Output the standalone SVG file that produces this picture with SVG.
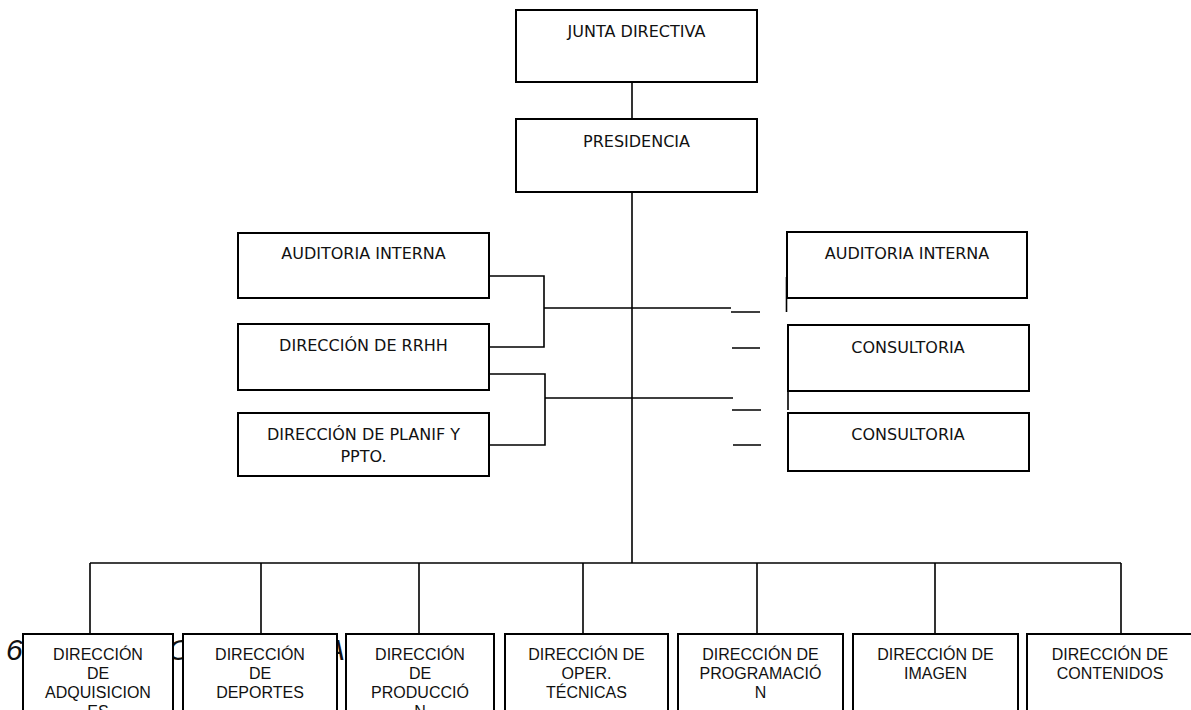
<svg xmlns="http://www.w3.org/2000/svg" width="1191" height="710" viewBox="0 0 1191 710">
<style>
.box{fill:#fff;stroke:#000;stroke-width:2}
.ln{fill:none;stroke:#000;stroke-width:1.6}
.t{font-family:"DejaVu Sans",Verdana,sans-serif;font-size:16px;fill:#111;text-anchor:middle}
.b{font-family:"Liberation Sans",Arial,sans-serif;font-size:16px;fill:#111;text-anchor:middle}
.bg{font-family:"Liberation Sans",Arial,sans-serif;font-size:30px;font-style:italic;fill:#111}
</style>
<rect width="1191" height="710" fill="#fff"/>
<g id="background-text">
<text class="bg" x="6" y="660">6</text>
<text class="bg" x="168" y="660">O</text>
<text class="bg" x="325" y="660">A</text>
</g>
<g id="connectors">
<path class="ln" d="M632 82V119"/>
<path class="ln" d="M632 192V563"/>
<path class="ln" d="M90 563H1121"/>
<path class="ln" d="M90 563V634M261 563V634M419 563V634M583 563V634M757 563V634M935 563V634M1121 563V634"/>
<path class="ln" d="M489 276H544V347H489M544 308H731"/>
<path class="ln" d="M489 374H545V445H489M545 398H733"/>
<path class="ln" d="M731 312H760M732 348H760M732 410H761M733 445H761"/>
<path class="ln" d="M786.5 277V312M788 375V410"/>
</g>
<g id="junta"><rect class="box" x="516" y="10" width="241" height="72"/><text class="t" x="636.5" y="37">JUNTA DIRECTIVA</text></g>
<g id="presidencia"><rect class="box" x="516" y="119" width="241" height="73"/><text class="t" x="636.5" y="147">PRESIDENCIA</text></g>
<g id="auditoria-izq"><rect class="box" x="238" y="233" width="251" height="65"/><text class="t" x="363.5" y="259">AUDITORIA INTERNA</text></g>
<g id="rrhh"><rect class="box" x="238" y="324" width="251" height="66"/><text class="t" x="363.5" y="351">DIRECCIÓN DE RRHH</text></g>
<g id="planif"><rect class="box" x="238" y="413" width="251" height="63"/><text class="t" x="363.5" y="440">DIRECCIÓN DE PLANIF Y</text><text class="t" x="363.5" y="462">PPTO.</text></g>
<g id="auditoria-der"><rect class="box" x="787" y="232" width="240" height="66"/><text class="t" x="907" y="259">AUDITORIA INTERNA</text></g>
<g id="consultoria-1"><rect class="box" x="788" y="325" width="241" height="66"/><text class="t" x="908" y="353">CONSULTORIA</text></g>
<g id="consultoria-2"><rect class="box" x="788" y="413" width="241" height="58"/><text class="t" x="908" y="440">CONSULTORIA</text></g>
<g id="adquisiciones"><rect class="box" x="23" y="634" width="150" height="90"/><text class="b" x="98" y="660">DIRECCIÓN</text><text class="b" x="98" y="679">DE</text><text class="b" x="98" y="698">ADQUISICION</text><text class="b" x="98" y="717">ES</text></g>
<g id="deportes"><rect class="box" x="183" y="634" width="154" height="90"/><text class="b" x="260" y="660">DIRECCIÓN</text><text class="b" x="260" y="679">DE</text><text class="b" x="260" y="698">DEPORTES</text></g>
<g id="produccion"><rect class="box" x="346" y="634" width="148" height="90"/><text class="b" x="420" y="660">DIRECCIÓN</text><text class="b" x="420" y="679">DE</text><text class="b" x="420" y="698">PRODUCCIÓ</text><text class="b" x="420" y="717">N</text></g>
<g id="operaciones"><rect class="box" x="505" y="634" width="163" height="90"/><text class="b" x="586.5" y="660">DIRECCIÓN DE</text><text class="b" x="586.5" y="679">OPER.</text><text class="b" x="586.5" y="698">TÉCNICAS</text></g>
<g id="programacion"><rect class="box" x="678" y="634" width="165" height="90"/><text class="b" x="760.5" y="660">DIRECCIÓN DE</text><text class="b" x="760.5" y="679">PROGRAMACIÓ</text><text class="b" x="760.5" y="698">N</text></g>
<g id="imagen"><rect class="box" x="853" y="634" width="165" height="90"/><text class="b" x="935.5" y="660">DIRECCIÓN DE</text><text class="b" x="935.5" y="679">IMAGEN</text></g>
<g id="contenidos"><rect class="box" x="1027" y="634" width="166" height="90"/><text class="b" x="1110" y="660">DIRECCIÓN DE</text><text class="b" x="1110" y="679">CONTENIDOS</text></g>
</svg>
